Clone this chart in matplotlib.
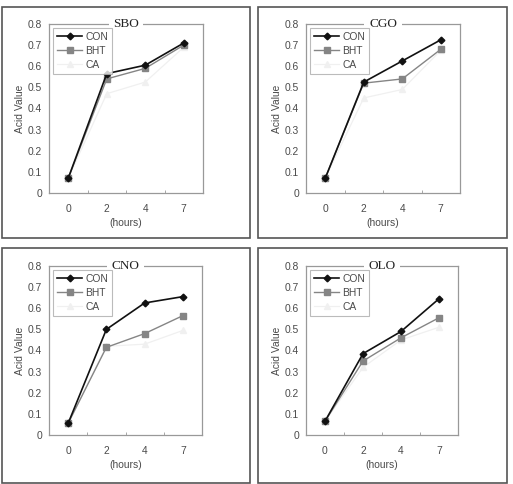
"""Acid value of four oils over heating time"""

import numpy as np
from matplotlib import pyplot as plt
from matplotlib.patches import Rectangle

plt.rcParams['font.family'] = ['Liberation Sans', 'DejaVu Sans']

hours = ['0', '2', '4', '7']
oils = ['SBO', 'CGO', 'CNO', 'OLO']

con = {
    'SBO': [0.07, 0.565, 0.605, 0.71],
    'CGO': [0.07, 0.525, 0.625, 0.725],
    'CNO': [0.055, 0.50, 0.625, 0.655],
    'OLO': [0.065, 0.385, 0.49, 0.645],
}
bht = {
    'SBO': [0.07, 0.54, 0.59, 0.70],
    'CGO': [0.07, 0.52, 0.54, 0.68],
    'CNO': [0.055, 0.415, 0.48, 0.565],
    'OLO': [0.065, 0.35, 0.46, 0.555],
}
ca = {
    'SBO': [0.07, 0.47, 0.525, 0.69],
    'CGO': [0.07, 0.45, 0.49, 0.675],
    'CNO': [0.055, 0.42, 0.43, 0.495],
    'OLO': [0.065, 0.32, 0.45, 0.51],
}

W, H = 513, 484
fig = plt.figure(figsize=(W / 100, H / 100), dpi=100)

# panel frames (left, top, right, bottom) and axes boxes in pixels
frames = [(2, 7, 250, 238), (258, 7, 507, 238),
          (2, 248, 250, 483), (258, 248, 507, 483)]
boxes = [(49, 24, 203, 193), (306, 24, 460, 193),
         (49, 266, 202, 435), (306, 266, 458, 435)]

txt_col = '#4a4a4a'
fs = 7.4
x = np.arange(len(hours))

for oil, fr, bx in zip(oils, frames, boxes):
    l, t, r, b = fr
    fig.patches.append(Rectangle((l / W, 1 - b / H), (r - l) / W, (b - t) / H,
                                 transform=fig.transFigure, fill=False,
                                 edgecolor='#555555', linewidth=1.2))
    l, t, r, b = bx
    ax = fig.add_axes([l / W, 1 - b / H, (r - l) / W, (b - t) / H])
    ax.plot(x, ca[oil], color='#f0f0f0', marker='^', markersize=4.5,
            linewidth=0.9, label='CA')
    ax.plot(x, bht[oil], color='#858585', marker='s', markersize=4.6,
            linewidth=1.0, label='BHT')
    ax.plot(x, con[oil], color='#111111', marker='D', markersize=3.4,
            linewidth=1.2, label='CON')

    ax.set_xlim(-0.5, 3.5)
    ax.set_ylim(0, 0.8)
    ax.set_xticks(x)
    ax.set_xticklabels(hours)
    ax.set_xticks([0.5, 1.5, 2.5], minor=True)
    ax.tick_params(axis='x', which='major', length=0, pad=8,
                   labelsize=fs, labelcolor=txt_col)
    ax.tick_params(axis='x', which='minor', direction='in', length=2,
                   color='#999999')
    ax.set_yticks(np.arange(0, 0.81, 0.1))
    ax.set_yticklabels(['0'] + [f'{v:.1f}' for v in np.arange(0.1, 0.81, 0.1)])
    ax.tick_params(axis='y', length=0, pad=5, labelsize=fs, labelcolor=txt_col)
    for s in ax.spines.values():
        s.set_color('#999999')
        s.set_linewidth(0.9)

    ax.set_xlabel('(hours)', fontsize=fs, color=txt_col, labelpad=3)
    ax.set_ylabel('Acid Value', fontsize=fs, color=txt_col, labelpad=2)
    ax.text(0.5, 1.0, oil, transform=ax.transAxes, ha='center', va='center',
            fontsize=9.5, family='Liberation Serif', color='#222222',
            bbox=dict(facecolor='white', edgecolor='none',
                      boxstyle='square,pad=0.35'))

    handles, labels = ax.get_legend_handles_labels()
    leg = ax.legend(handles[::-1], labels[::-1], loc='upper left',
                    fontsize=fs, frameon=True, fancybox=False,
                    borderaxespad=0.35, handlelength=2.5, labelspacing=0.4,
                    borderpad=0.4, handletextpad=0.3)
    leg.get_frame().set_edgecolor('#aaaaaa')
    leg.get_frame().set_linewidth(0.8)
    for tx in leg.get_texts():
        tx.set_color(txt_col)

plt.savefig('out.png', dpi=100)
